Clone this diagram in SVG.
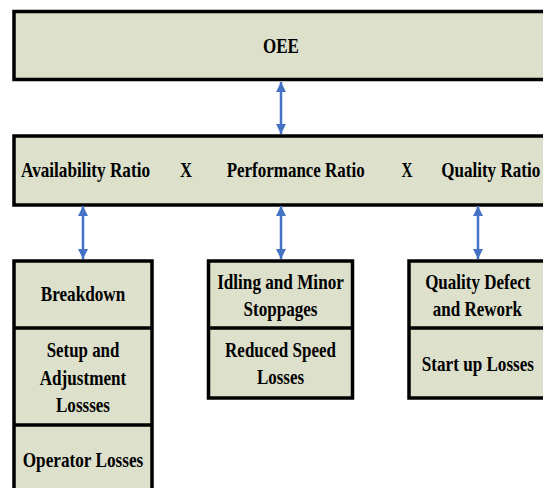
<svg xmlns="http://www.w3.org/2000/svg" width="543" height="488" viewBox="0 0 543 488">
<style>
.box{fill:#DDE0CB;stroke:#000;stroke-width:3.5}
.div{stroke:#000;stroke-width:3.5}
text{font-family:"Liberation Serif","Times New Roman",serif;font-weight:bold;font-size:21px;fill:#000;text-anchor:middle}
.conn{stroke:#4472C4;stroke-width:2.5;fill:none;marker-start:url(#ah);marker-end:url(#ah)}
</style>
<defs>
<marker id="ah" viewBox="0 0 10 10" refX="10" refY="5" markerWidth="11" markerHeight="10" markerUnits="userSpaceOnUse" orient="auto-start-reverse">
<path d="M0,0 L10,5 L0,10 z" fill="#4472C4"/>
</marker>
</defs>
<rect width="543" height="488" fill="#fff"/>
<g id="oee">
<rect class="box" x="14" y="11.5" width="540" height="68"/>
<text x="281" y="53" textLength="36" lengthAdjust="spacingAndGlyphs">OEE</text>
</g>
<g id="ratios">
<rect class="box" x="14" y="136" width="540" height="69"/>
<text x="85.5" y="177" textLength="129" lengthAdjust="spacingAndGlyphs">Availability Ratio</text>
<text x="186" y="177" textLength="12" lengthAdjust="spacingAndGlyphs">X</text>
<text x="295.7" y="177" textLength="138" lengthAdjust="spacingAndGlyphs">Performance Ratio</text>
<text x="407" y="177" textLength="11" lengthAdjust="spacingAndGlyphs">X</text>
<text x="490.7" y="177" textLength="99" lengthAdjust="spacingAndGlyphs">Quality Ratio</text>
</g>
<g id="availability-losses">
<rect class="box" x="14" y="261" width="138" height="240"/>
<line class="div" x1="14" y1="328" x2="152" y2="328"/>
<line class="div" x1="14" y1="425" x2="152" y2="425"/>
<text x="83" y="301" textLength="84.5" lengthAdjust="spacingAndGlyphs">Breakdown</text>
<text x="83" y="357" textLength="72.7" lengthAdjust="spacingAndGlyphs">Setup and</text>
<text x="83" y="384.5" textLength="86.6" lengthAdjust="spacingAndGlyphs">Adjustment</text>
<text x="83" y="412" textLength="54" lengthAdjust="spacingAndGlyphs">Lossses</text>
<text x="83" y="467" textLength="120.5" lengthAdjust="spacingAndGlyphs">Operator Losses</text>
</g>
<g id="performance-losses">
<rect class="box" x="208.5" y="261" width="144" height="137"/>
<line class="div" x1="208.5" y1="328" x2="352.5" y2="328"/>
<text x="280.5" y="288.5" textLength="126.7" lengthAdjust="spacingAndGlyphs">Idling and Minor</text>
<text x="280.5" y="315.5" textLength="74" lengthAdjust="spacingAndGlyphs">Stoppages</text>
<text x="280.5" y="357" textLength="110.8" lengthAdjust="spacingAndGlyphs">Reduced Speed</text>
<text x="280.5" y="384" textLength="47" lengthAdjust="spacingAndGlyphs">Losses</text>
</g>
<g id="quality-losses">
<rect class="box" x="409" y="261" width="145" height="137"/>
<line class="div" x1="409" y1="328" x2="554" y2="328"/>
<text x="477.8" y="288.5" textLength="105.3" lengthAdjust="spacingAndGlyphs">Quality Defect</text>
<text x="477.4" y="315.5" textLength="89.3" lengthAdjust="spacingAndGlyphs">and Rework</text>
<text x="477.9" y="370.5" textLength="112.2" lengthAdjust="spacingAndGlyphs">Start up Losses</text>
</g>
<g id="connectors">
<line class="conn" x1="281" y1="82" x2="281" y2="134"/>
<line class="conn" x1="83" y1="206" x2="83" y2="259"/>
<line class="conn" x1="281" y1="206" x2="281" y2="259"/>
<line class="conn" x1="478" y1="206" x2="478" y2="259"/>
</g>
</svg>
